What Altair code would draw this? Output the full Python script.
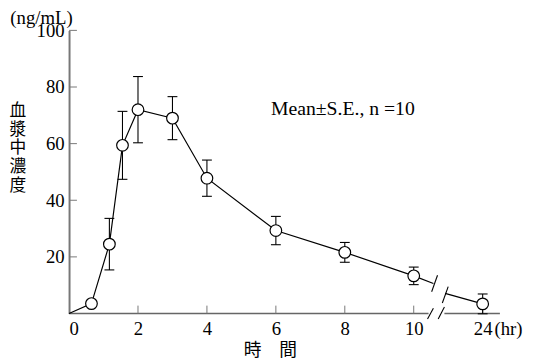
import altair as alt
import pandas as pd

# ---- data ----
time_h = [0.65, 1.17, 1.55, 2, 3, 4, 6, 8, 10, 24]
conc = [3.5, 24.5, 59.4, 72.0, 69.0, 47.8, 29.3, 21.6, 13.3, 3.4]
se = [1.0, 9.1, 12.0, 11.7, 7.6, 6.4, 5.0, 3.5, 3.1, 3.5]
x_tick_labels = [0, 2, 4, 6, 8, 10, 24]
y_tick_values = [20, 40, 60, 80, 100]

# axis break: 24 h is drawn at position 12
BREAK_LAST = 10
BREAK_POS = 12


def pos(t):
    return t if t <= BREAK_LAST else BREAK_POS


# line pieces either side of the break
brk_left_end = (10.57, 10.6)
brk_right_start = (10.91, 7.1)
# break marks
slash_x1 = [10.52, 10.83, 10.40, 10.71]
slash_y1 = [7.7, 3.7, -1.9, -1.9]
slash_x2 = [10.69, 11.00, 10.57, 10.89]
slash_y2 = [13.5, 9.5, 1.9, 2.3]
axis_seg_x1 = [0, 10.89]
axis_seg_x2 = [10.43, 12.5]

W, H = 437.5, 287.5
SERIF = "Liberation Serif"
CJK = "Noto Sans CJK JP"

pts = pd.DataFrame({
    "x": [pos(t) for t in time_h],
    "c": conc,
    "lo": [c - s for c, s in zip(conc, se)],
    "hi": [c + s for c, s in zip(conc, se)],
})
line_df = pd.DataFrame({
    "x": [0] + [pos(t) for t in time_h if t <= BREAK_LAST],
    "c": [0] + [c for t, c in zip(time_h, conc) if t <= BREAK_LAST],
})
i_last = max(i for i, t in enumerate(time_h) if t <= BREAK_LAST)
seg_df = pd.DataFrame({
    "x": [pos(time_h[i_last]), brk_right_start[0]],
    "y": [conc[i_last], brk_right_start[1]],
    "x2": [brk_left_end[0], pos(time_h[-1])],
    "y2": [brk_left_end[1], conc[-1]],
})
slash_df = pd.DataFrame({"x": slash_x1, "y": slash_y1, "x2": slash_x2, "y2": slash_y2})
axseg_df = pd.DataFrame({"x": axis_seg_x1, "x2": axis_seg_x2, "y": [0, 0]})
xt_df = pd.DataFrame({"x": [pos(t) for t in x_tick_labels if t != 0]})
yt_df = pd.DataFrame({"y": y_tick_values})
one = pd.DataFrame({"a": [0]})

xs = alt.Scale(domain=[0, 12.5], nice=False, zero=False)
ys = alt.Scale(domain=[0, 100], nice=False)
x_axis = alt.Axis(
    values=[pos(t) for t in x_tick_labels], title=None, ticks=False, domain=False,
    grid=False, labelFont=SERIF, labelFontSize=19, labelColor="black",
    labelPadding=6, labelAngle=0,
    labelExpr="datum.value == %d ? '24' : datum.label" % BREAK_POS,
)
y_axis = alt.Axis(
    values=y_tick_values, title=None, ticks=False, domain=True, domainColor="#777777",
    domainWidth=2, grid=False, labelFont=SERIF, labelFontSize=19, labelColor="black",
    labelPadding=5,
)


def X(f="x"):
    return alt.X(f + ":Q", scale=xs, axis=x_axis)


def Y(f):
    return alt.Y(f + ":Q", scale=ys, axis=y_axis)


axis_line = alt.Chart(axseg_df).mark_rule(color="#666666", strokeWidth=1.6).encode(
    x=X(), x2="x2:Q", y=Y("y"))
x_ticks = alt.Chart(xt_df).mark_rule(color="#777777", strokeWidth=1).encode(
    x=X(), y=alt.value(H), y2=alt.value(H - 8))
y_ticks = alt.Chart(yt_df).mark_rule(color="#777777", strokeWidth=1).encode(
    y=Y("y"), x=alt.value(0), x2=alt.value(8))
line = alt.Chart(line_df).mark_line(color="black", strokeWidth=1.2).encode(
    x=X(), y=Y("c"))
segs = alt.Chart(seg_df).mark_rule(color="black", strokeWidth=1.2).encode(
    x=X(), y=Y("y"), x2="x2:Q", y2="y2:Q")
slashes = alt.Chart(slash_df).mark_rule(color="black", strokeWidth=1.1).encode(
    x=X(), y=Y("y"), x2="x2:Q", y2="y2:Q")
err = alt.Chart(pts).mark_rule(color="black", strokeWidth=1.1).encode(
    x=X(), y=Y("lo"), y2="hi:Q")
cap_hi = alt.Chart(pts).mark_rule(color="black", strokeWidth=1.1, xOffset=-5, x2Offset=5).encode(
    x=X(), x2="x:Q", y=Y("hi"))
cap_lo = alt.Chart(pts).mark_rule(color="black", strokeWidth=1.1, xOffset=-5, x2Offset=5).encode(
    x=X(), x2="x:Q", y=Y("lo"))
points = alt.Chart(pts).mark_point(
    shape="circle", filled=True, fill="white", stroke="black", strokeWidth=1.2,
    size=140, opacity=1).encode(x=X(), y=Y("c"))

unit = alt.Chart(one).mark_text(font=SERIF, fontSize=19, color="black", align="center",
                                baseline="middle").encode(
    x=alt.value(-28), y=alt.value(-12.5), text=alt.value("(ng/mL)"))
hr = alt.Chart(one).mark_text(font=SERIF, fontSize=19, color="black", align="left",
                              baseline="middle").encode(
    x=alt.value(432), y=alt.value(303.5), text=alt.value("(hr)"))
note = alt.Chart(one).mark_text(font=SERIF, fontSize=20, color="black", align="left",
                                baseline="middle").encode(
    x=alt.value(205), y=alt.value(80), text=alt.value("Mean±S.E., n =10"))
ytitle = alt.Chart(one).mark_text(font=CJK, fontSize=17, color="black", align="center",
                                  baseline="top", lineBreak="\n", lineHeight=19).encode(
    x=alt.value(-52), y=alt.value(74), text=alt.value("血\n漿\n中\n濃\n度"))
xtitle = alt.Chart(one).mark_text(font=CJK, fontSize=18, color="black", align="center",
                                  baseline="middle").encode(
    x=alt.value(204.5), y=alt.value(325.5), text=alt.value("時　間"))

chart = alt.layer(
    axis_line, x_ticks, y_ticks, line, segs, slashes, err, cap_hi, cap_lo, points,
    unit, hr, note, ytitle, xtitle,
).properties(
    width=W, height=H,
    autosize=alt.AutoSizeParams(type="none"),
    padding={"left": 62, "top": 20, "right": 26.5, "bottom": 46.5},
    background="white",
).configure_view(stroke=None)

chart.save("out.html", embed_options={"renderer": "svg", "actions": False})
